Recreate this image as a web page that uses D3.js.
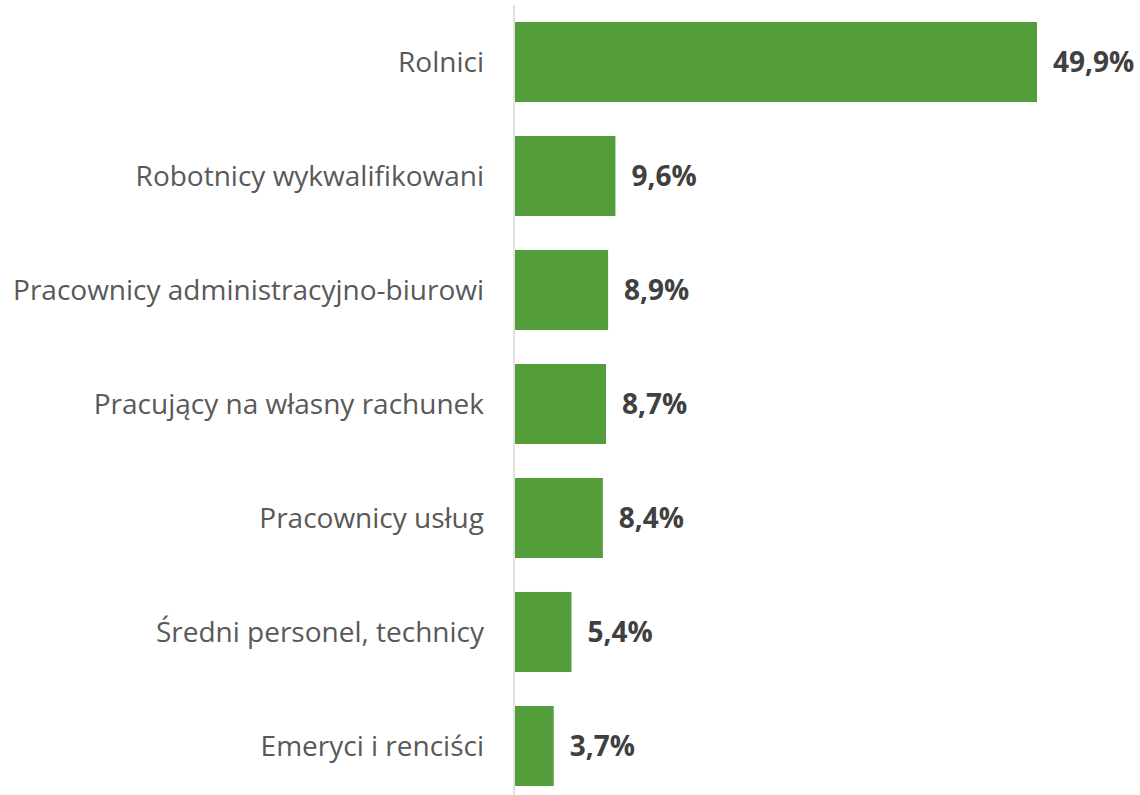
<!DOCTYPE html>
<html>
<head>
<meta charset="utf-8">
<script src="https://cdn.jsdelivr.net/npm/d3@7"></script>
<style>
  body { margin: 0; background: #fff; }
</style>
</head>
<body>
<div id="chart"></div>
<script>
// categories (top to bottom)
var categories = [
  "Rolnici",
  "Robotnicy wykwalifikowani",
  "Pracownicy administracyjno-biurowi",
  "Pracujący na własny rachunek",
  "Pracownicy usług",
  "Średni personel, technicy",
  "Emeryci i renciści"
];

// share in percent
var values = [49.9, 9.6, 8.9, 8.7, 8.4, 5.4, 3.7];

var width = 1140, height = 795;
var left = 515;

var svg = d3.select("#chart")
  .append("svg")
    .attr("width", width)
    .attr("height", height);

var x = d3.scaleLinear()
  .domain([0, 49.9])
  .range([left, 1037]);

var y = d3.scaleBand()
  .domain(categories)
  .range([5, 803])
  .paddingInner(0.298)
  .paddingOuter(0.149);

var data = categories.map(function(c, i) { return {name: c, value: values[i]}; });

// bars
svg.selectAll("rect")
  .data(data)
  .enter()
  .append("rect")
    .attr("x", x(0))
    .attr("y", function(d) { return y(d.name); })
    .attr("width", function(d) { return x(d.value) - x(0); })
    .attr("height", y.bandwidth())
    .attr("fill", "#539E3A");

// vertical axis line
svg.append("line")
  .attr("x1", left - 1).attr("x2", left - 1)
  .attr("y1", 5).attr("y2", height)
  .attr("stroke", "#d9d9d9")
  .attr("stroke-width", 1.5);

// category labels
svg.selectAll(".cat")
  .data(data)
  .enter()
  .append("text")
    .attr("class", "cat")
    .attr("x", 484)
    .attr("y", function(d) { return y(d.name) + y.bandwidth() / 2; })
    .attr("dy", "0.35em")
    .attr("text-anchor", "end")
    .style("font-family", "'Open Sans', sans-serif")
    .style("font-size", "28px")
    .attr("fill", "#595959")
    .text(function(d) { return d.name; });

// value labels
svg.selectAll(".val")
  .data(data)
  .enter()
  .append("text")
    .attr("class", "val")
    .attr("x", function(d) { return x(d.value) + 16; })
    .attr("y", function(d) { return y(d.name) + y.bandwidth() / 2; })
    .attr("dy", "0.35em")
    .style("font-family", "'Open Sans', sans-serif")
    .style("font-size", "28px")
    .style("font-weight", "bold")
    .attr("fill", "#404040")
    .text(function(d) { return d3.format(".1f")(d.value).replace(".", ",") + "%"; });
</script>
</body>
</html>
